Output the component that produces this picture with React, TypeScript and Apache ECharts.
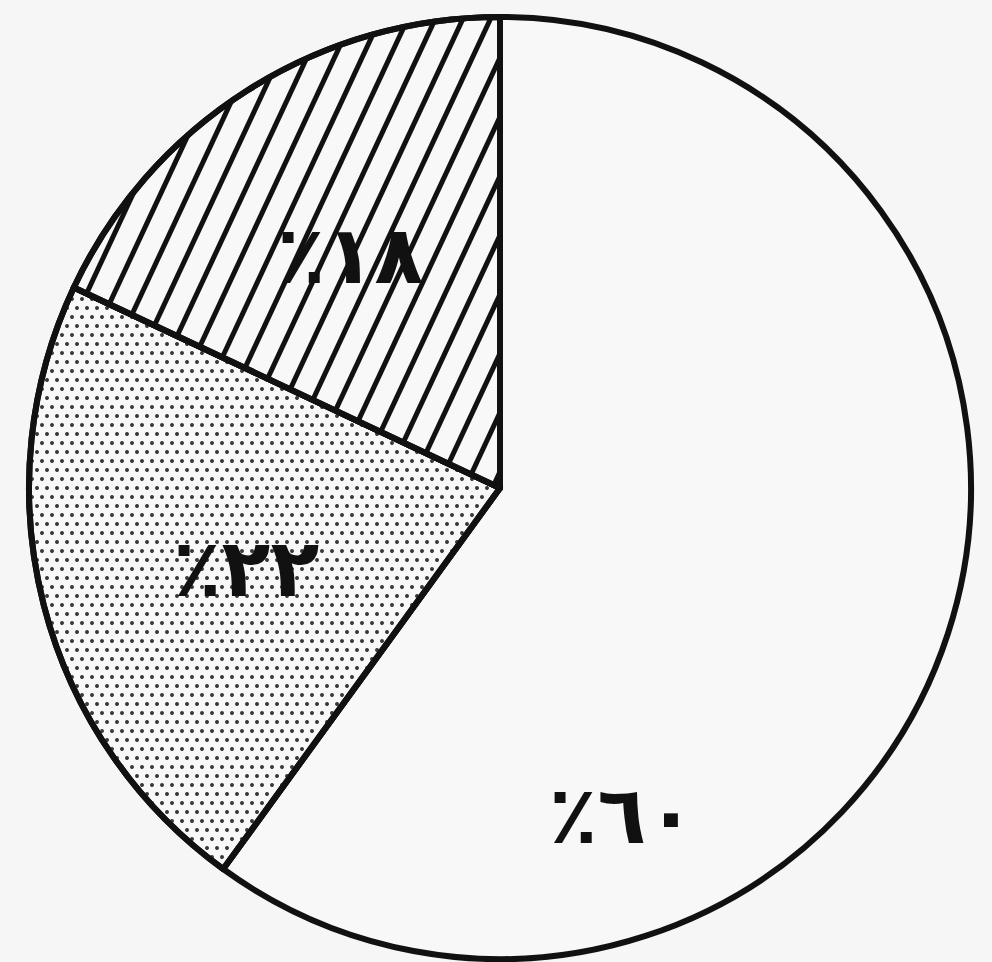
import React, { useEffect, useRef } from "react";
import * as echarts from "echarts";

const categories = ["a", "b", "c"];
const values = [60, 22, 18];
const labels = ["٪٦٠", "٪٢٢", "٪١٨"];

// layout only
const CENTER = [500, 488];
const RADIUS = 471;
const LABEL_XY = [
  [622, 815],
  [246, 568],
  [350, 255],
];

export default function App() {
  const ref = useRef<HTMLDivElement>(null);
  useEffect(() => {
    const chart = echarts.init(ref.current!, null, { renderer: "svg" });
    const decals = [
      null,
      {
        symbol: "circle",
        symbolSize: 1,
        dashArrayX: [[4, 6], [0, 5, 4, 1]],
        dashArrayY: [4, 5],
        color: "#3a3a3a",
      },
      {
        symbol: "rect",
        symbolSize: 1,
        dashArrayX: [1, 0],
        dashArrayY: [5, 20],
        rotation: (-65 * Math.PI) / 180,
        color: "#111",
      },
    ];
    chart.setOption({
      animation: false,
      backgroundColor: "#f6f6f6",
      series: [
        {
          type: "pie",
          center: CENTER,
          radius: RADIUS,
          startAngle: 90,
          clockwise: true,
          silent: true,
          data: categories.map((c, i) => ({
            name: c,
            value: values[i],
            itemStyle: decals[i] ? { decal: decals[i] } : {},
          })),
          itemStyle: {
            color: "#f8f8f8",
            borderColor: "#111",
            borderWidth: 6,
          },
          label: {
            show: true,
            position: "inside",
            formatter: (p: any) => labels[p.dataIndex],
            fontFamily: "DejaVu Sans",
            fontWeight: "bold",
            fontSize: 80,
            color: "#111",
          },
          labelLine: { show: false },
          labelLayout: (p: any) => ({
            x: LABEL_XY[p.dataIndex][0],
            y: LABEL_XY[p.dataIndex][1],
            align: "center",
            verticalAlign: "middle",
          }),
        },
      ],
    });
    return () => chart.dispose();
  }, []);
  return (
    <div
      ref={ref}
      style={{ position: "fixed", left: 0, top: 0, width: 992, height: 962 }}
    />
  );
}
